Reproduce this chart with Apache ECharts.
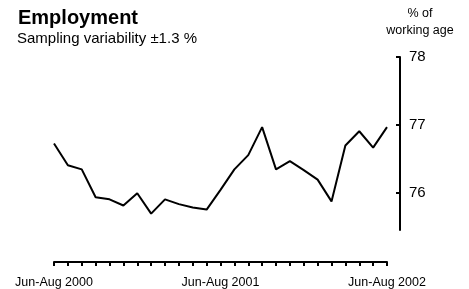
<!DOCTYPE html>
<html>
<head>
<meta charset="utf-8">
<title>Employment</title>
<script src="https://cdn.jsdelivr.net/npm/echarts@6/dist/echarts.min.js"></script>
<style>
  html, body { margin: 0; padding: 0; background: #fff; }
</style>
</head>
<body>
<div id="main" style="width: 469px;height: 289px"></div>
<script type="text/javascript">
// rolling three-month periods
const periods = [
    'Jun-Aug 2000', 'Jul-Sep 2000', 'Aug-Oct 2000', 'Sep-Nov 2000', 'Oct-Dec 2000',
    'Nov-Jan 2001', 'Dec-Feb 2001', 'Jan-Mar 2001', 'Feb-Apr 2001', 'Mar-May 2001',
    'Apr-Jun 2001', 'May-Jul 2001', 'Jun-Aug 2001', 'Jul-Sep 2001', 'Aug-Oct 2001',
    'Sep-Nov 2001', 'Oct-Dec 2001', 'Nov-Jan 2002', 'Dec-Feb 2002', 'Jan-Mar 2002',
    'Feb-Apr 2002', 'Mar-May 2002', 'Apr-Jun 2002', 'May-Jul 2002', 'Jun-Aug 2002'
];

// employment rate, % of working age
const employment = [
    76.73, 76.41, 76.35, 75.94, 75.91, 75.82, 76.00, 75.70, 75.91, 75.84,
    75.79, 75.76, 76.05, 76.35, 76.56, 76.97, 76.35, 76.47, 76.34, 76.20,
    75.88, 76.70, 76.91, 76.67, 76.97
];

const yTicks = [76, 77, 78];

const font = 'Liberation Sans, Arial, sans-serif';

const chart = echarts.init(document.getElementById('main'));

const option = {
    animation: false,
    backgroundColor: '#fff',
    graphic: [
        {
            type: 'text', x: 18, y: 8,
            style: { text: 'Employment', font: 'bold 20px ' + font, fill: '#000', verticalAlign: 'top' }
        },
        {
            type: 'text', x: 17, y: 31,
            style: { text: 'Sampling variability \u00b11.3 %', font: '15px ' + font, fill: '#000', verticalAlign: 'top' }
        },
        {
            type: 'text', x: 420, y: 5,
            style: {
                text: '% of\nworking age', font: '12.5px ' + font, fill: '#000',
                align: 'center', verticalAlign: 'top', lineHeight: 17
            }
        }
    ],
    grid: {
        left: 54,
        right: 82,
        top: 57,
        bottom: 59
    },
    xAxis: {
        type: 'category',
        data: periods,
        boundaryGap: false,
        offset: 32,
        axisLine: { lineStyle: { color: '#000', width: 2 } },
        axisTick: { interval: 0, length: 4, lineStyle: { color: '#000', width: 2 } },
        axisLabel: {
            interval: 11,
            margin: 14,
            color: '#000',
            fontSize: 12.5,
            fontFamily: font
        },
        splitLine: { show: false }
    },
    yAxis: {
        type: 'value',
        position: 'right',
        offset: 13,
        min: 75.46,
        max: 78,
        axisLine: { show: true, lineStyle: { color: '#000', width: 2 } },
        axisTick: { show: true, inside: true, length: 4, customValues: yTicks, lineStyle: { color: '#000', width: 2 } },
        axisLabel: {
            customValues: yTicks,
            margin: 9,
            color: '#000',
            fontSize: 15,
            fontFamily: font
        },
        splitLine: { show: false }
    },
    series: [{
        type: 'line',
        data: employment,
        symbol: 'none',
        lineStyle: { color: '#000', width: 2 }
    }]
};

chart.setOption(option);
</script>
</body>
</html>
